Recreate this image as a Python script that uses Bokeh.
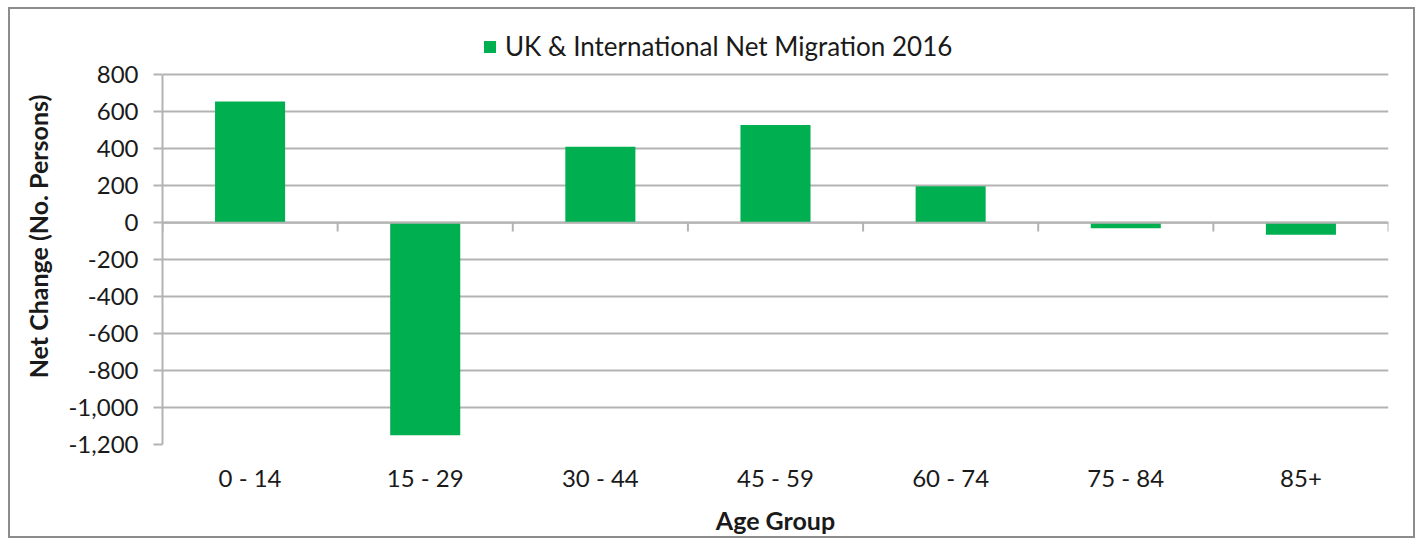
from bokeh.plotting import figure
from bokeh.models import (Range1d, FactorRange, FixedTicker, NumeralTickFormatter,
                          Span, ColumnDataSource, Legend, LegendItem)
from bokeh.embed import file_html
from bokeh.resources import INLINE

categories = ["0 - 14", "15 - 29", "30 - 44", "45 - 59", "60 - 74", "75 - 84", "85+"]
net_migration = [655, -1150, 410, 528, 197, -30, -65]
series_name = "UK & International Net Migration 2016"
y_ticks = [-1200, -1000, -800, -600, -400, -200, 0, 200, 400, 600, 800]

FONT = "Lato"
TEXT = "#1a1a1a"
GRID = "#b3b3b3"
GREEN = "#00b050"

# extra room above the top tick holds the legend inside the frame
y_top_room = 250

p = figure(width=1407, height=531, output_backend="svg", toolbar_location=None,
           x_range=FactorRange(factors=categories, range_padding=0, factor_padding=0),
           y_range=Range1d(y_ticks[0], y_ticks[-1] + y_top_room),
           min_border_left=152, min_border_right=29, min_border_top=19, min_border_bottom=96)
p.styles = {"border": "2px solid #8c8c8c", "margin-left": "8px", "margin-top": "7px",
            "box-sizing": "border-box"}
p.outline_line_color = None
p.background_fill_color = "white"
p.border_fill_color = "white"

src = ColumnDataSource(dict(x=categories, y=net_migration))
bars = p.vbar(x="x", top="y", bottom=0, width=0.4, source=src, fill_color=GREEN,
              line_color=None)

# horizontal category axis crossing at zero
p.add_layout(Span(location=0, dimension="width", line_color=GRID, line_width=2))
bounds = list(range(len(categories) + 1))
p.segment(x0=bounds, y0=[0] * len(bounds), x1=bounds, y1=[-48] * len(bounds),
          line_color=GRID, line_width=2)

# y axis
p.yaxis.ticker = FixedTicker(ticks=y_ticks)
p.yaxis.bounds = (y_ticks[0], y_ticks[-1])
p.yaxis.formatter = NumeralTickFormatter(format="0,0")
p.yaxis.axis_line_color = GRID
p.yaxis.axis_line_width = 2
p.yaxis.major_tick_line_color = GRID
p.yaxis.major_tick_line_width = 2
p.yaxis.major_tick_out = 9
p.yaxis.major_tick_in = 0
p.yaxis.minor_tick_line_color = None
p.yaxis.major_label_text_font = FONT
p.yaxis.major_label_text_font_size = "24px"
p.yaxis.major_label_text_color = TEXT
p.yaxis.major_label_standoff = 15
p.yaxis.axis_label = "Net Change (No. Persons)"
p.yaxis.axis_label_text_font = FONT
p.yaxis.axis_label_text_font_style = "bold"
p.yaxis.axis_label_text_font_size = "25px"
p.yaxis.axis_label_text_color = TEXT
p.yaxis.axis_label_standoff = 12

p.ygrid.ticker = FixedTicker(ticks=y_ticks)
p.ygrid.grid_line_color = GRID
p.ygrid.grid_line_width = 2
p.xgrid.grid_line_color = None

# x axis (labels only)
p.xaxis.axis_line_color = None
p.xaxis.major_tick_line_color = None
p.xaxis.minor_tick_line_color = None
p.xaxis.major_label_text_font = FONT
p.xaxis.major_label_text_font_size = "24px"
p.xaxis.major_label_text_color = TEXT
p.xaxis.major_label_standoff = 12
p.xaxis.axis_label = "Age Group"
p.xaxis.axis_label_text_font = FONT
p.xaxis.axis_label_text_font_style = "bold"
p.xaxis.axis_label_text_font_size = "25px"
p.xaxis.axis_label_text_color = TEXT
p.xaxis.axis_label_standoff = 10

# legend (inside the frame, in the room above the top tick)
lg = Legend(items=[LegendItem(label=series_name, renderers=[bars])],
            location=(320, 382), orientation="horizontal")
lg.border_line_color = None
lg.background_fill_alpha = 0
lg.padding = 0
lg.margin = 0
lg.glyph_width = 15
lg.glyph_height = 15
lg.label_text_font = FONT
lg.label_text_font_size = "26px"
lg.label_text_color = TEXT
lg.label_standoff = 8
p.add_layout(lg, "center")

open("out.html", "w").write(file_html(p, INLINE))
